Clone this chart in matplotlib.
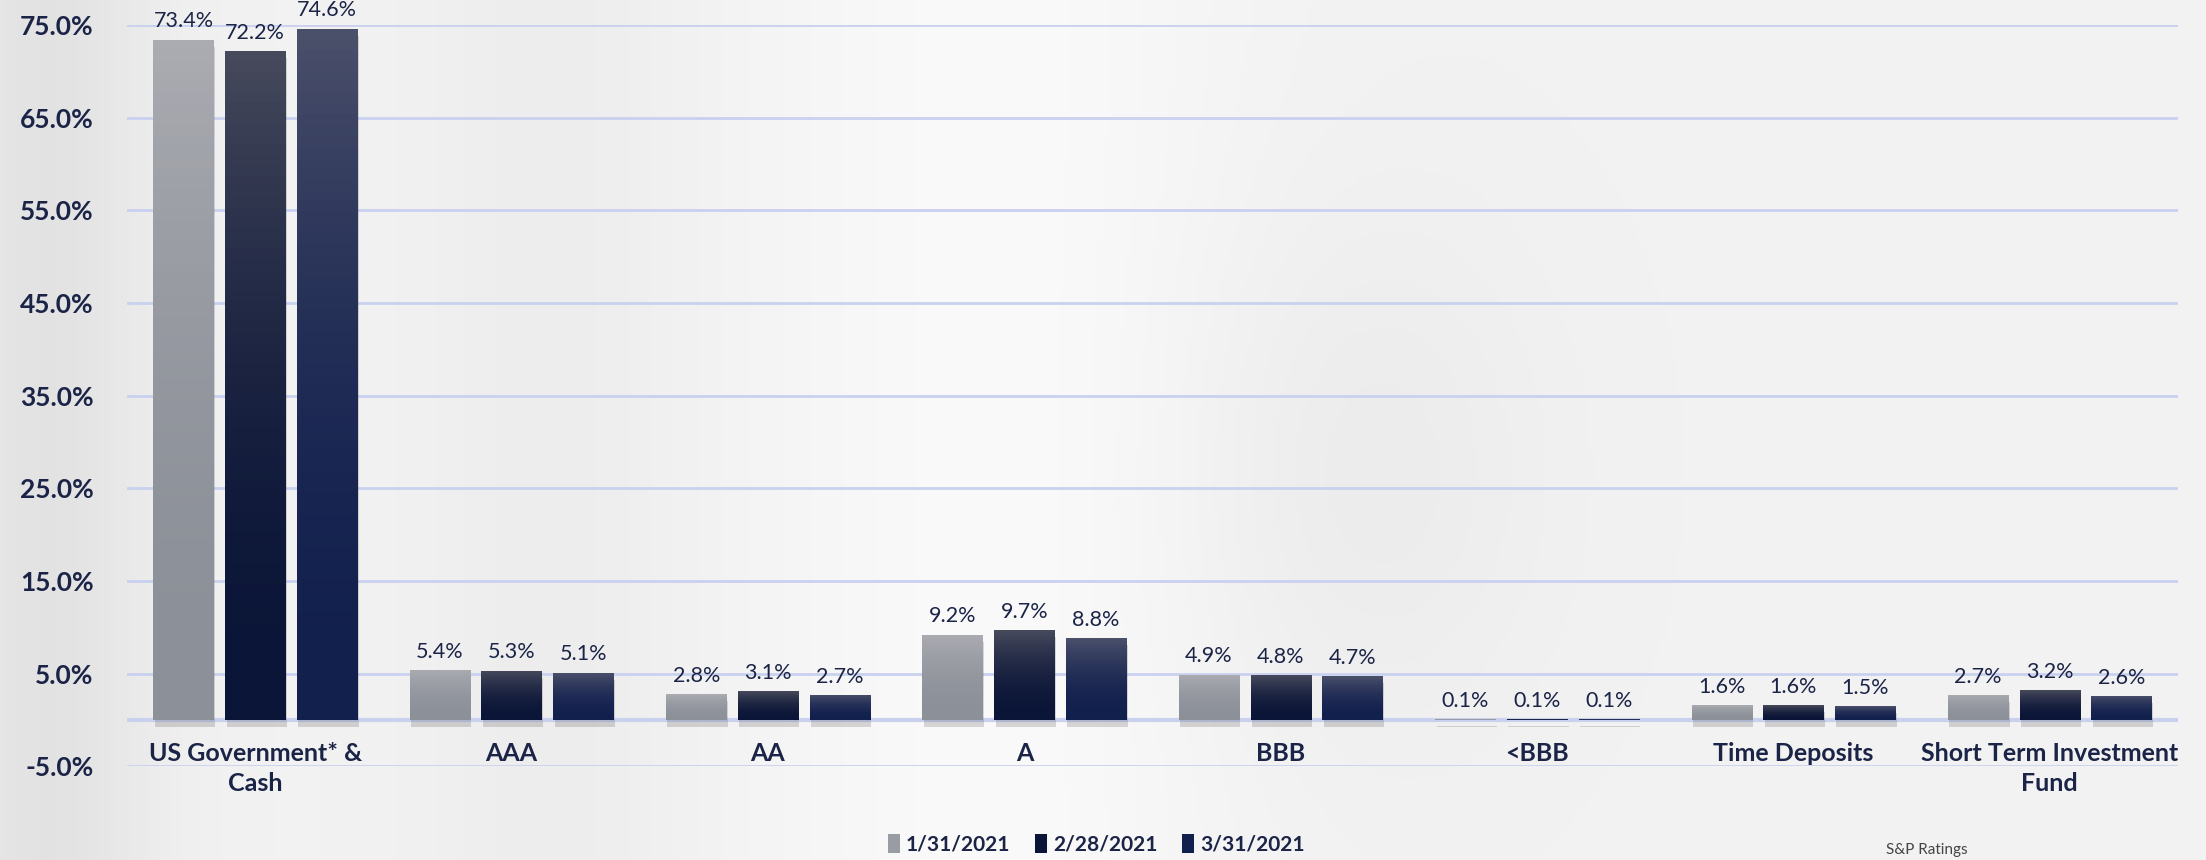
import numpy as np
import matplotlib
matplotlib.use("Agg")
import matplotlib.pyplot as plt
import matplotlib.patheffects as pe
from matplotlib.colors import to_rgb
from matplotlib.patches import Patch

# chart data
categories = ["US Government* &\nCash", "AAA", "AA", "A", "BBB", "<BBB",
              "Time Deposits", "Short Term Investment\nFund"]
series_names = ["1/31/2021", "2/28/2021", "3/31/2021"]
jan_2021 = [73.4, 5.4, 2.8, 9.2, 4.9, 0.1, 1.6, 2.7]
feb_2021 = [72.2, 5.3, 3.1, 9.7, 4.8, 0.1, 1.6, 3.2]
mar_2021 = [74.6, 5.1, 2.7, 8.8, 4.7, 0.1, 1.5, 2.6]
y_ticks = [-5, 5, 15, 25, 35, 45, 55, 65, 75]

navy = "#1b2447"
grid_col = "#c9d1ef"
# (top, bottom) gradient colours per series
gradients = [("#abacb2", "#8c9098"), ("#474a5c", "#0b1537"), ("#4b506a", "#12204e")]

plt.rcParams["font.family"] = ["Lato", "DejaVu Sans"]

fig = plt.figure(figsize=(22.06, 8.6), dpi=100)
fig.patch.set_facecolor("#efefef")

# soft blurred-looking background
bg = fig.add_axes([0, 0, 1, 1], zorder=-10)
xx, yy = np.meshgrid(np.linspace(0, 1, 400), np.linspace(0, 1, 160))
shade = (0.95 - 0.06 * np.exp(-((xx - 0.02) / 0.05) ** 2)
         - 0.025 * np.exp(-((xx - 0.62) / 0.08) ** 2) * np.exp(-((yy - 0.55) / 0.3) ** 2)
         - 0.02 * np.exp(-((xx - 0.25) / 0.06) ** 2)
         + 0.03 * np.exp(-((xx - 0.45) / 0.1) ** 2))
bg.imshow(np.dstack([shade, shade, shade]).clip(0, 1), aspect="auto", extent=[0, 1, 0, 1])
bg.axis("off")

ax = fig.add_axes([0.0576, 0.109, 0.9297, 0.862])
ax.patch.set_alpha(0)

x = np.arange(len(categories))
width = 0.235
step = 0.28
all_series = [jan_2021, feb_2021, mar_2021]


def grad_img(top, bottom):
    t = np.linspace(1, 0, 64) ** 2
    c_top = np.array(to_rgb(top))
    c_bot = np.array(to_rgb(bottom))
    arr = c_bot[None, :] + (c_top - c_bot)[None, :] * t[:, None]
    return arr[:, None, :]


for i, vals in enumerate(all_series):
    top, bottom = gradients[i]
    bars = ax.bar(x + (i - 1) * step, vals, width, color=bottom, zorder=3)
    for b, v in zip(bars, vals):
        b.set_path_effects([pe.SimplePatchShadow(offset=(1, -5), shadow_rgbFace="#555555", alpha=0.22),
                            pe.Normal()])
        im = ax.imshow(grad_img(top, bottom), aspect="auto", zorder=4,
                       extent=[b.get_x(), b.get_x() + b.get_width(), 0, b.get_height()])
        im.set_clip_path(b)
        ax.annotate(f"{v:.1f}%", (b.get_x() + b.get_width() / 2, v), xytext=(0, 6),
                    textcoords="offset points", ha="center", va="bottom",
                    fontsize=15.5, color=navy, zorder=5)

ax.set_xlim(-0.5, len(categories) - 0.5)
ax.set_ylim(-5, 75)
ax.set_yticks(y_ticks)
ax.set_yticklabels([f"{t:.1f}%" for t in y_ticks], fontsize=19, fontweight="bold", color=navy)
ax.set_xticks([])
ax.tick_params(axis="y", length=0, pad=24)
ax.grid(axis="y", color=grid_col, linewidth=2, zorder=0)
ax.axhline(0, color=grid_col, linewidth=3, zorder=2)
for s in ax.spines.values():
    s.set_visible(False)

for xi, name in zip(x, categories):
    ax.text(xi, -2.4, name, ha="center", va="top", fontsize=18, fontweight="bold",
            color=navy, linespacing=1.35)

handles = [Patch(facecolor=gradients[i][1], label=series_names[i]) for i in range(3)]
handles[0].set_facecolor("#9a9ca3")
fig.legend(handles=handles, loc="center", bbox_to_anchor=(0.497, 0.018), ncol=3,
           frameon=False, labelcolor=navy, prop={"weight": "bold", "size": 15},
           handlelength=0.55, handleheight=1.0, handletextpad=0.3, columnspacing=1.2)

fig.text(0.855, 0.003, "S&P Ratings", va="bottom", ha="left", fontsize=11, color="#444444")

fig.savefig("out.png", dpi=100, facecolor=fig.get_facecolor())
